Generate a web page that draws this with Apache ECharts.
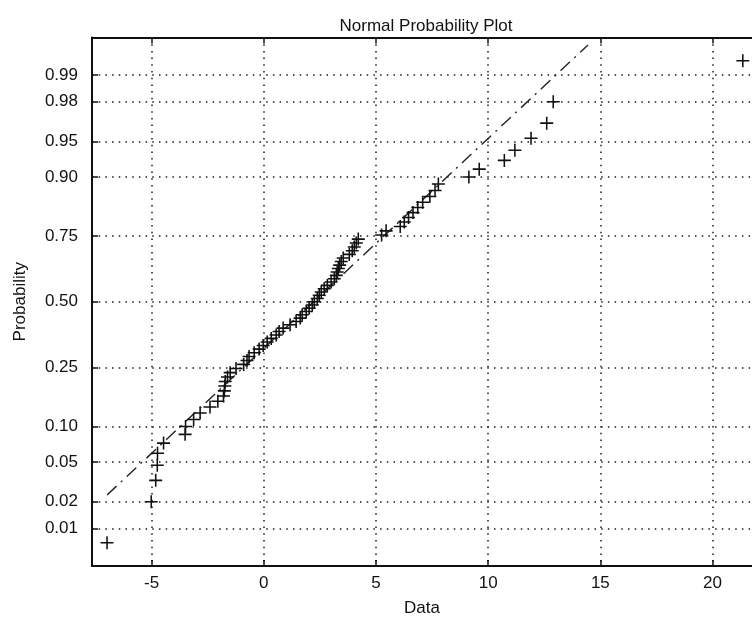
<!DOCTYPE html>
<html>
<head>
<meta charset="utf-8">
<script src="https://cdn.jsdelivr.net/npm/echarts@6/dist/echarts.min.js"></script>
<style>html,body{margin:0;padding:0;background:#fff}#chart{width:752px;height:622px}</style>
</head>
<body>
<div id="chart"></div>
<script>
// ---- data ----
const titleText = 'Normal Probability Plot';
const xAxisName = 'Data';
const yAxisName = 'Probability';
// sorted sample values (x positions of the "+" markers)
const sampleValues = [
  -6.99, -5.02, -4.82, -4.75, -4.74, -4.47, -3.51, -3.49, -3.13, -2.84,
  -2.40, -2.05, -1.80, -1.76, -1.74, -1.72, -1.62, -1.50, -1.24, -0.90,
  -0.75, -0.66, -0.43, -0.21, -0.03, 0.15, 0.33, 0.55, 0.68, 0.86,
  1.17, 1.44, 1.62, 1.71, 1.89, 2.02, 2.16, 2.25, 2.38, 2.47,
  2.56, 2.69, 2.83, 3.00, 3.14, 3.23, 3.27, 3.32, 3.38, 3.45,
  3.54, 3.81, 3.94, 4.03, 4.12, 4.21, 5.25, 5.45, 6.08, 6.26,
  6.45, 6.65, 6.86, 7.08, 7.40, 7.63, 7.78, 9.14, 9.60, 10.72,
  11.19, 11.91, 12.61, 12.90, 21.35
];
// probability (y position) of each marker
const sampleProbabilities = [
  0.00667, 0.02, 0.03333, 0.04667, 0.06, 0.07333, 0.08667, 0.1, 0.11333, 0.12667,
  0.14, 0.15333, 0.16667, 0.18, 0.19333, 0.20667, 0.22, 0.23333, 0.24667, 0.26,
  0.27333, 0.28667, 0.3, 0.31333, 0.32667, 0.34, 0.35333, 0.36667, 0.38, 0.39333,
  0.40667, 0.42, 0.43333, 0.44667, 0.46, 0.47333, 0.48667, 0.5, 0.51333, 0.52667,
  0.54, 0.55333, 0.56667, 0.58, 0.59333, 0.60667, 0.62, 0.63333, 0.64667, 0.66,
  0.67333, 0.68667, 0.7, 0.71333, 0.72667, 0.74, 0.75333, 0.76667, 0.78, 0.79333,
  0.80667, 0.82, 0.83333, 0.84667, 0.86, 0.87333, 0.88667, 0.9, 0.91333, 0.92667,
  0.94, 0.95333, 0.96667, 0.98, 0.99333
];
// reference line end points
const fitLineX = [-6.99, 14.45];
const fitLineP = [0.0236, 0.99581];
// axes
const xTicks = [-5, 0, 5, 10, 15, 20];
const xLimits = [-7.66, 21.76];
const yTickProbs = [0.01, 0.02, 0.05, 0.10, 0.25, 0.50, 0.75, 0.90, 0.95, 0.98, 0.99];
const yTickLabels = ['0.01', '0.02', '0.05', '0.10', '0.25', '0.50', '0.75', '0.90', '0.95', '0.98', '0.99'];
const yLimitsP = [0.00333, 0.99667];

// ---- normal probability scale (inverse normal CDF) ----
function norminv(p) {
  const a = [-3.969683028665376e+01, 2.209460984245205e+02, -2.759285104469687e+02, 1.383577518672690e+02, -3.066479806614716e+01, 2.506628277459239e+00];
  const b = [-5.447609879822406e+01, 1.615858368580409e+02, -1.556989798598866e+02, 6.680131188771972e+01, -1.328068155288572e+01];
  const c = [-7.784894002430293e-03, -3.223964580411365e-01, -2.400758277161838e+00, -2.549732539343734e+00, 4.374664141464968e+00, 2.938163982698783e+00];
  const d = [7.784695709041462e-03, 3.224671290700398e-01, 2.445134137142996e+00, 3.754408661907416e+00];
  const pl = 0.02425, ph = 1 - pl;
  let q, r;
  if (p < pl) {
    q = Math.sqrt(-2 * Math.log(p));
    return (((((c[0]*q+c[1])*q+c[2])*q+c[3])*q+c[4])*q+c[5]) / ((((d[0]*q+d[1])*q+d[2])*q+d[3])*q+1);
  }
  if (p <= ph) {
    q = p - 0.5; r = q * q;
    return (((((a[0]*r+a[1])*r+a[2])*r+a[3])*r+a[4])*r+a[5])*q / (((((b[0]*r+b[1])*r+b[2])*r+b[3])*r+b[4])*r+1);
  }
  q = Math.sqrt(-2 * Math.log(1 - p));
  return -(((((c[0]*q+c[1])*q+c[2])*q+c[3])*q+c[4])*q+c[5]) / ((((d[0]*q+d[1])*q+d[2])*q+d[3])*q+1);
}

const yTickZ = yTickProbs.map(norminv);
const labelByZ = {};
yTickZ.forEach((z, i) => { labelByZ[z.toFixed(6)] = yTickLabels[i]; });
const zLimits = yLimitsP.map(norminv);

const FONT = 'Liberation Sans, Arial, sans-serif';
const TXT = '#111';
const gridDots = { color: '#1a1a1a', width: 1.5, type: [1.5, 5.2] };
const plusPath = 'path://M4.4,0H5.6V4.4H10V5.6H5.6V10H4.4V5.6H0V4.4H4.4Z';

const chart = echarts.init(document.getElementById('chart'), null, { renderer: 'canvas' });
chart.setOption({
  animation: false,
  backgroundColor: '#fff',
  title: {
    text: titleText, left: 421, top: 13, textAlign: 'center',
    textStyle: { fontFamily: FONT, fontSize: 17, fontWeight: 'normal', color: TXT }
  },
  grid: { left: 92, right: 0, top: 37.5, bottom: 56, containLabel: false },
  xAxis: [{
    type: 'value', position: 'bottom', min: xLimits[0], max: xLimits[1],
    name: xAxisName, nameLocation: 'middle', nameGap: 34,
    nameTextStyle: { fontFamily: FONT, fontSize: 17, color: TXT },
    axisLine: { show: true, onZero: false, lineStyle: { color: '#111', width: 2 } },
    axisTick: { show: true, inside: true, length: 6, customValues: xTicks, lineStyle: { color: '#111', width: 1.5 } },
    axisLabel: { customValues: xTicks, margin: 9, fontFamily: FONT, fontSize: 17, color: TXT },
    splitLine: { show: true, lineStyle: gridDots }
  }, {
    type: 'value', position: 'top', min: xLimits[0], max: xLimits[1],
    axisLine: { show: true, onZero: false, lineStyle: { color: '#111', width: 2 } },
    axisTick: { show: true, inside: true, length: 6, customValues: xTicks, lineStyle: { color: '#111', width: 1.5 } },
    axisLabel: { show: false },
    splitLine: { show: false }
  }],
  yAxis: [{
    type: 'value', position: 'left', min: zLimits[0], max: zLimits[1],
    name: yAxisName, nameLocation: 'middle', nameGap: 63, nameRotate: 90,
    nameTextStyle: { fontFamily: FONT, fontSize: 17, color: TXT },
    axisLine: { show: true, onZero: false, lineStyle: { color: '#111', width: 2 } },
    axisTick: { show: true, inside: true, length: 6, customValues: yTickZ, lineStyle: { color: '#111', width: 1.5 } },
    axisLabel: {
      customValues: yTickZ, margin: 14, fontFamily: FONT, fontSize: 17, color: TXT,
      formatter: v => labelByZ[Number(v).toFixed(6)] || ''
    },
    splitLine: { show: true, lineStyle: gridDots }
  }],
  series: [{
    name: 'fit', type: 'line', xAxisIndex: 0, yAxisIndex: 0,
    data: fitLineX.map((x, i) => [x, norminv(fitLineP[i])]),
    symbol: 'none', silent: true, z: 3,
    lineStyle: { color: '#222', width: 1.4, type: [13, 6, 2, 6] }
  }, {
    name: 'data', type: 'scatter', xAxisIndex: 0, yAxisIndex: 0,
    data: sampleValues.map((x, i) => [x, norminv(sampleProbabilities[i])]),
    symbol: plusPath, symbolSize: 13, z: 4,
    itemStyle: { color: '#111', opacity: 1 }
  }]
});
</script>
</body>
</html>
